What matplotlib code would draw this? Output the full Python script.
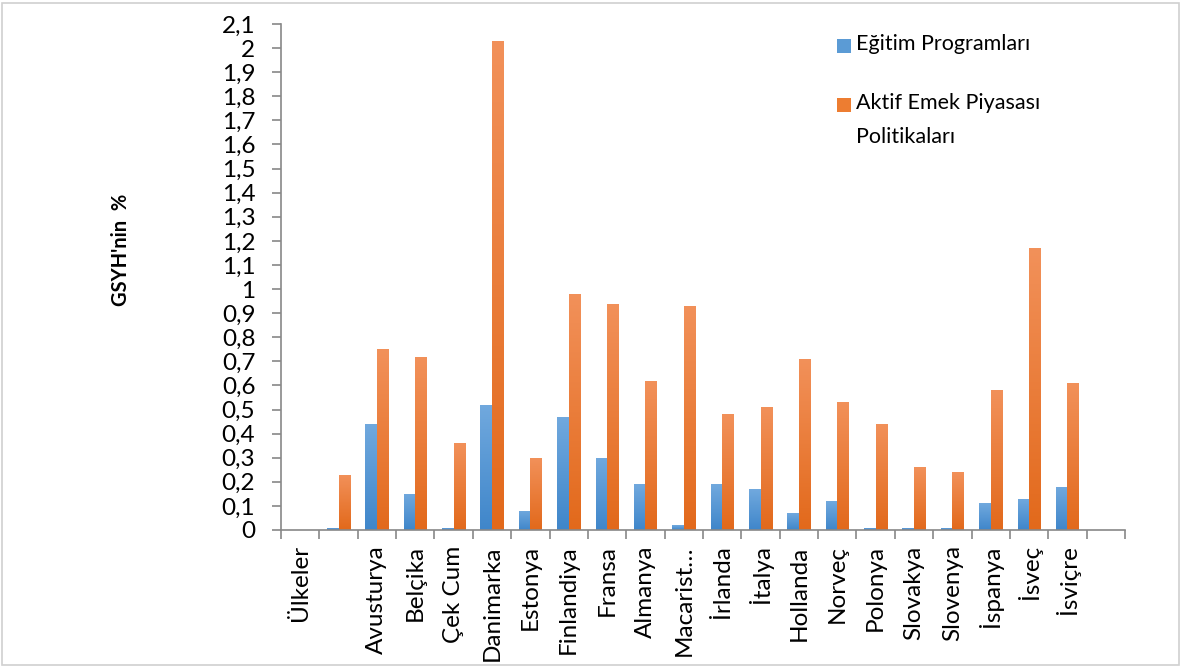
import matplotlib
matplotlib.use("Agg")
import matplotlib.pyplot as plt
import numpy as np
from matplotlib.patches import Rectangle
from matplotlib.colors import LinearSegmentedColormap

plt.rcParams['font.family'] = ['Lato', 'DejaVu Sans']

categories = ["Ülkeler", "", "Avusturya", "Belçika", "Çek Cum", "Danimarka", "Estonya",
              "Finlandiya", "Fransa", "Almanya", "Macarist…", "İrlanda", "İtalya",
              "Hollanda", "Norveç", "Polonya", "Slovakya", "Slovenya", "İspanya",
              "İsveç", "İsviçre", ""]
egitim = [np.nan, 0.01, 0.44, 0.15, 0.01, 0.52, 0.08, 0.47, 0.30, 0.19, 0.02, 0.19, 0.17,
          0.07, 0.12, 0.01, 0.01, 0.01, 0.11, 0.13, 0.18, np.nan]
aktif = [np.nan, 0.23, 0.75, 0.72, 0.36, 2.03, 0.30, 0.98, 0.94, 0.62, 0.93, 0.48, 0.51,
         0.71, 0.53, 0.44, 0.26, 0.24, 0.58, 1.17, 0.61, np.nan]
series_names = ["Eğitim Programları", "Aktif Emek Piyasası\nPolitikaları"]
yticks = np.round(np.arange(0, 2.11, 0.1), 1)

W, H = 1184, 668
fig = plt.figure(figsize=(W / 100, H / 100), dpi=100)
ax = fig.add_axes([281 / W, 1 - 530 / H, (1125 - 281) / W, (530 - 24) / H])

x = np.arange(len(categories))
bw = 0.3
b1 = ax.bar(x - bw / 2, egitim, bw, color="#5B9BD5", label=series_names[0])
b2 = ax.bar(x + bw / 2, aktif, bw, color="#ED7D31", label=series_names[1])

cmap_b = LinearSegmentedColormap.from_list("b", ["#3F86CA", "#71A9DE"])
cmap_o = LinearSegmentedColormap.from_list("o", ["#E2691B", "#F2915A"])
grad = np.linspace(0, 1, 256).reshape(-1, 1)
for bars, cm in ((b1, cmap_b), (b2, cmap_o)):
    for r in bars:
        h = r.get_height()
        if not np.isfinite(h) or h <= 0:
            continue
        xl = r.get_x()
        im = ax.imshow(grad, cmap=cm, origin="lower", aspect="auto",
                       extent=(xl, xl + r.get_width(), 0, h), zorder=r.get_zorder())
        im.set_clip_path(r)
        r.set_facecolor("none")

ax.set_xlim(-0.5, len(categories) - 0.5)
ax.set_ylim(0, 2.1)

ax.set_yticks(yticks)
ax.set_yticklabels([f"{v:g}".replace(".", ",") for v in yticks], fontsize=17.5)
ax.set_xticks(np.arange(-0.5, len(categories), 1.0))
ax.set_xticklabels([])
ax.set_xticks(x, minor=True)
ax.set_xticklabels(categories, minor=True, rotation=90, fontsize=17.5, va="top", ha="center")
ax.tick_params(axis="x", which="minor", length=0, pad=11)
ax.tick_params(axis="x", which="major", length=6.5, color="#888888", width=1.2, direction="out")
ax.tick_params(axis="y", length=6.5, color="#888888", width=1.2, direction="out", pad=12)

for s in ("top", "right"):
    ax.spines[s].set_visible(False)
for s in ("left", "bottom"):
    ax.spines[s].set_color("#888888")
    ax.spines[s].set_linewidth(1.2)

fig.text(121 / W, 1 - 250 / H, "GSYH'nin  %", rotation=90, fontsize=14.5,
         fontweight="bold", ha="center", va="center")

# legend
legend_colors = ["#5B9BD5", "#ED7D31"]
legend_y = [46, 105]
for name, c, yy in zip(series_names, legend_colors, legend_y):
    fig.patches.append(Rectangle((837 / W, 1 - (yy + 7) / H), 14 / W, 14 / H,
                                 transform=fig.transFigure, facecolor=c, edgecolor="none"))
    fig.text(856 / W, 1 - (yy - 12) / H, name, fontsize=15.5, ha="left", va="top",
             linespacing=1.9)

fig.patches.append(Rectangle((0.002, 0.004), 0.994, 0.991, transform=fig.transFigure,
                             fill=False, edgecolor="#D0D0D0", linewidth=1.2))

fig.savefig("out.png", dpi=100)
